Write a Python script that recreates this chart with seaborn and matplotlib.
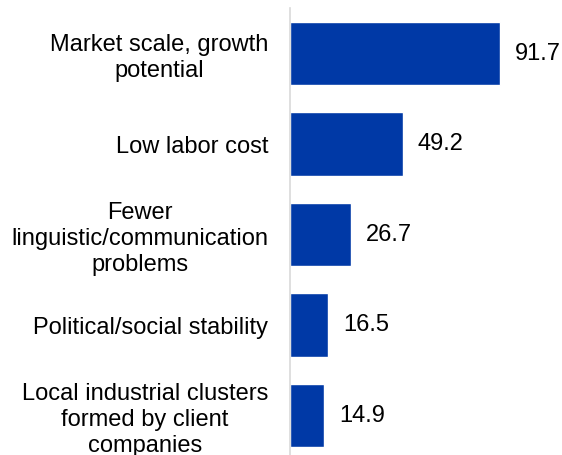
import matplotlib
matplotlib.use("Agg")
import matplotlib.pyplot as plt
import seaborn as sns
import pandas as pd

CATEGORIES = [
    "Market scale, growth\npotential",
    "Low labor cost",
    "Fewer\nlinguistic/communication\nproblems",
    "Political/social stability",
    "Local industrial clusters\nformed by client\ncompanies",
]
VALUES = [91.7, 49.2, 26.7, 16.5, 14.9]

BAR_COLOR = "#0039A6"

sns.set_style("white")
plt.rcParams["font.family"] = ["Liberation Sans", "DejaVu Sans"]

df = pd.DataFrame({"reason": CATEGORIES, "share": VALUES})

fig = plt.figure(figsize=(5.62, 4.55), dpi=100)
ax = fig.add_axes([290 / 562, 0.0, 272 / 562, 447 / 455])

sns.barplot(data=df, x="share", y="reason", orient="h", color=BAR_COLOR,
            width=0.70, saturation=1, ax=ax)

ax.set_xlim(0, 118.8)
ax.set_ylim(4.436, -0.503)
ax.set_xlabel("")
ax.set_ylabel("")
ax.set_xticks([])

ax.tick_params(axis="y", length=0, pad=15.8, labelsize=17)
for lbl in ax.get_yticklabels():
    lbl.set_multialignment("center")
    lbl.set_linespacing(1.22)
    lbl.set_color("black")

for side in ["top", "right", "bottom"]:
    ax.spines[side].set_visible(False)
ax.spines["left"].set_color("#d9d9d9")
ax.spines["left"].set_linewidth(1.2)

ax.bar_label(ax.containers[0], labels=[f"{v:.1f}" for v in VALUES],
             padding=10.8, fontsize=17, color="black")

fig.savefig("out.png", dpi=100)
